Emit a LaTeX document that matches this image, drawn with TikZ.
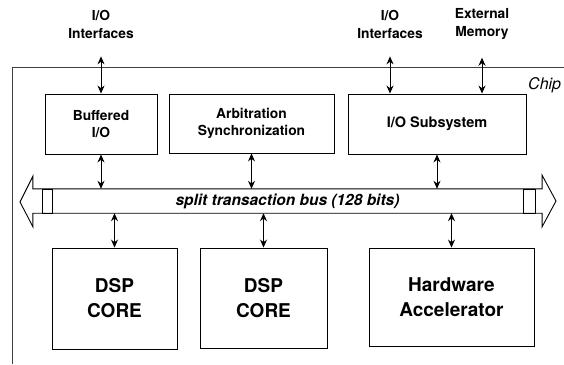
\documentclass[tikz,border=0pt]{standalone}
\usepackage{fontspec}
\setmainfont{TeX Gyre Heros}
\usetikzlibrary{arrows.meta}

\tikzset{
  unit/.style={draw, line width=0.9pt, inner sep=0pt, align=center,
    font=\bfseries\fontsize{13.8}{16.5}\selectfont},
  core/.style={unit, font=\bfseries\fontsize{19}{25}\selectfont},
  ext/.style={align=center, inner sep=0pt, font=\bfseries\fontsize{13.8}{18}\selectfont},
  bi/.style={{Stealth[length=8pt,width=7pt]}-{Stealth[length=8pt,width=7pt]}, line width=0.9pt},
}

\begin{document}
\begin{tikzpicture}[x=1pt, y=-1pt]
    \useasboundingbox (0,0) rectangle (564,364);

    % Chip boundary (runs off the page on the right and bottom)
    \draw[line width=0.6pt, black!75] (564,67) -- (12,67) -- (12,364);
    \node[anchor=west, inner sep=0pt, font=\itshape\fontsize{16}{18}\selectfont] (chip) at (528,85) {Chip};

    % Outside world
    \node[ext] (io1) at (101,24) {I/O\\Interfaces};
    \node[ext] (io2) at (390,24) {I/O\\Interfaces};
    \node[ext] (mem) at (482,24) {External\\Memory};

    % Top row of units
    \node[unit, minimum width=112pt, minimum height=60pt] (buf) at (101,124) {Buffered\\I/O};
    \node[unit, minimum width=165pt, minimum height=59pt] (arb) at (251.5,123.5) {Arbitration\\Synchronization};
    \node[unit, minimum width=178pt, minimum height=60pt, font=\bfseries\fontsize{14.5}{17}\selectfont] (sub) at (437,124) {I/O Subsystem};

    % Split transaction bus
    \node[minimum width=509pt, minimum height=24pt, inner sep=0pt,
      font=\bfseries\itshape\fontsize{15.5}{18}\selectfont] (bus) at (287.5,201) {split transaction bus (128 bits)};
    \draw[line width=0.9pt] (20,202) -- (33,176) -- (bus.north west) -- (bus.north east)
      -- (542,175) -- (556,201) -- (542,227) -- (bus.south east) -- (bus.south west)
      -- (33,227) -- cycle;
    \draw[line width=0.9pt] (42,189) rectangle (52,213);
    \draw[line width=0.9pt] (523,189) rectangle (535,213);

    % Bottom row of units
    \node[core, minimum width=125pt, minimum height=101pt] (dsp1) at (114.5,298.5) {DSP\\CORE};
    \node[core, minimum width=127pt, minimum height=100pt] (dsp2) at (263.5,298) {DSP\\CORE};
    \node[core, minimum width=165pt, minimum height=98pt] (hwa) at (451.5,297) {Hardware\\Accelerator};

    % Links to the outside
    \draw[bi, shorten <=18pt] (io1.south) -- (io1.south |- buf.north);
    \draw[bi, shorten <=18pt] (io2.south) -- (io2.south |- sub.north);
    \draw[bi, shorten <=18pt] (mem.south) -- (mem.south |- sub.north);

    % Links to the bus
    \foreach \u in {buf,arb,sub}
        \draw[bi] (\u.south) -- (\u.south |- bus.north);
    \foreach \u in {dsp1,dsp2,hwa}
        \draw[bi] (\u.north |- bus.south) -- (\u.north);
\end{tikzpicture}
\end{document}
